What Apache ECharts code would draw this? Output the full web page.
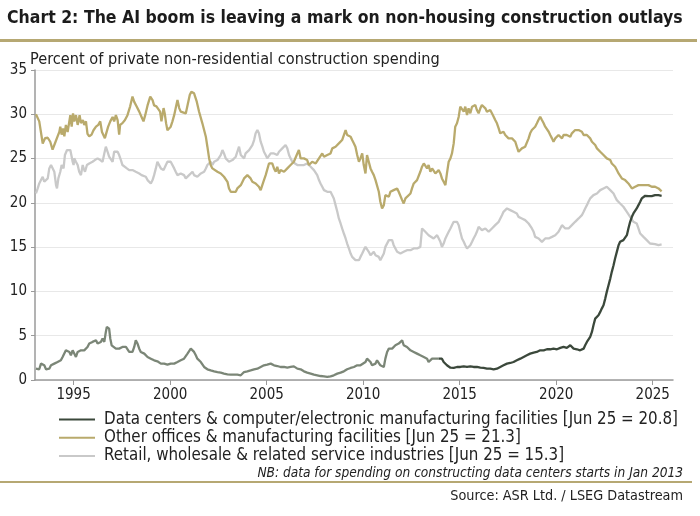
<!DOCTYPE html>
<html>
<head>
<meta charset="utf-8">
<script src="https://cdn.jsdelivr.net/npm/echarts@6/dist/echarts.min.js"></script>
<style>
html,body{margin:0;padding:0;background:#fff;}
#c{width:700px;height:516px;}
</style>
</head>
<body>
<div id="c"></div>
<script>
// ---------- DATA ----------
const xTickYears = [1995, 2000, 2005, 2010, 2015, 2020, 2025];
const yTicks = [0, 5, 10, 15, 20, 25, 30, 35];

const seriesNames = [
  'Data centers & computer/electronic manufacturing facilities [Jun 25 = 20.8]',
  'Other offices & manufacturing facilities [Jun 25 = 21.3]',
  'Retail, wholesale & related service industries [Jun 25 = 15.3]'
];

// Other offices & manufacturing facilities
const officeYears = [1993.05,1993.22,1993.40,1993.52,1993.66,1993.79,1993.91,1994.03,1994.17,1994.26,1994.31,1994.38,1994.45,1994.52,1994.60,1994.69,1994.83,1994.90,1994.97,1995.03,1995.12,1995.21,1995.31,1995.38,1995.48,1995.55,1995.64,1995.72,1995.81,1995.93,1996.03,1996.16,1996.28,1996.38,1996.47,1996.55,1996.62,1996.69,1996.79,1996.90,1997.02,1997.10,1997.19,1997.28,1997.36,1997.41,1997.53,1997.66,1997.79,1997.93,1998.05,1998.14,1998.26,1998.40,1998.52,1998.62,1998.71,1998.83,1998.97,1999.09,1999.17,1999.29,1999.38,1999.48,1999.55,1999.66,1999.72,1999.79,1999.86,1999.95,2000.03,2000.12,2000.21,2000.29,2000.38,2000.47,2000.55,2000.64,2000.81,2000.90,2001.02,2001.10,2001.24,2001.38,2001.50,2001.59,2001.67,2001.76,2001.85,2001.93,2002.02,2002.10,2002.19,2002.28,2002.45,2002.62,2002.79,2002.97,2003.05,2003.14,2003.23,2003.40,2003.48,2003.66,2003.74,2003.83,2003.91,2004.00,2004.17,2004.26,2004.35,2004.43,2004.52,2004.60,2004.69,2004.74,2004.83,2004.95,2005.12,2005.21,2005.29,2005.38,2005.47,2005.55,2005.64,2005.72,2005.90,2006.07,2006.24,2006.41,2006.59,2006.67,2006.76,2006.93,2007.10,2007.19,2007.28,2007.36,2007.54,2007.62,2007.71,2007.79,2007.88,2007.97,2008.14,2008.31,2008.40,2008.48,2008.57,2008.66,2008.74,2008.83,2008.91,2009.00,2009.09,2009.17,2009.26,2009.35,2009.43,2009.52,2009.60,2009.69,2009.78,2009.86,2009.95,2010.03,2010.12,2010.20,2010.29,2010.38,2010.46,2010.55,2010.64,2010.72,2010.81,2010.89,2010.98,2011.07,2011.15,2011.24,2011.33,2011.41,2011.50,2011.58,2011.67,2011.76,2011.84,2011.93,2012.02,2012.10,2012.19,2012.27,2012.45,2012.53,2012.62,2012.70,2012.79,2012.88,2012.96,2013.05,2013.14,2013.22,2013.31,2013.39,2013.48,2013.57,2013.65,2013.74,2013.83,2013.91,2014.00,2014.08,2014.17,2014.26,2014.34,2014.43,2014.52,2014.60,2014.69,2014.77,2014.86,2014.95,2015.03,2015.12,2015.21,2015.29,2015.38,2015.46,2015.55,2015.64,2015.72,2015.81,2015.89,2015.98,2016.07,2016.15,2016.24,2016.33,2016.41,2016.58,2016.67,2016.76,2016.84,2016.93,2017.02,2017.10,2017.19,2017.27,2017.36,2017.45,2017.53,2017.62,2017.71,2017.79,2017.88,2017.96,2018.05,2018.14,2018.22,2018.31,2018.39,2018.48,2018.57,2018.65,2018.74,2018.83,2018.91,2019.00,2019.08,2019.17,2019.26,2019.35,2019.43,2019.52,2019.61,2019.69,2019.78,2019.86,2019.95,2020.04,2020.12,2020.21,2020.30,2020.38,2020.47,2020.55,2020.64,2020.73,2020.81,2020.90,2020.98,2021.07,2021.16,2021.24,2021.33,2021.42,2021.50,2021.59,2021.67,2021.76,2021.85,2021.93,2022.02,2022.11,2022.19,2022.28,2022.36,2022.45,2022.54,2022.62,2022.71,2022.80,2022.88,2022.97,2023.05,2023.14,2023.23,2023.31,2023.40,2023.48,2023.57,2023.66,2023.74,2023.83,2023.92,2024.00,2024.09,2024.17,2024.26,2024.35,2024.43,2024.52,2024.61,2024.69,2024.78,2024.86,2024.95,2025.04,2025.12,2025.21,2025.30,2025.38,2025.46];
const officeValues = [30.0,29.2,26.7,27.3,27.35,26.9,26.0,26.7,27.5,28.0,28.6,27.7,28.4,27.5,28.8,28.0,29.9,28.6,30.1,29.2,29.9,28.8,29.9,29.0,29.35,28.8,29.2,27.8,27.5,27.7,28.2,28.6,28.8,29.2,28.0,28.2,27.3,27.85,28.6,29.2,29.7,29.2,29.9,29.35,27.7,28.8,29.0,29.35,29.9,30.9,32.0,31.4,30.9,30.3,29.7,29.2,29.9,31.0,32.0,31.6,31.0,30.9,30.7,30.3,29.2,30.7,30.1,29.0,28.2,28.4,28.6,29.2,29.9,30.7,31.6,30.7,30.3,30.1,30.1,31.0,32.2,32.55,32.37,31.42,30.29,30.11,28.98,28.22,27.47,26.34,25.02,24.27,23.89,23.70,23.51,23.32,22.95,22.38,21.63,21.25,21.06,21.25,21.63,22.00,22.19,22.76,22.57,23.13,22.76,22.38,22.57,22.19,22.19,21.82,21.44,21.25,22.38,23.13,24.45,24.64,24.45,23.89,23.51,24.08,23.32,23.70,23.51,23.89,24.27,24.64,25.58,25.96,25.02,25.02,24.83,24.27,24.27,24.64,24.45,24.27,25.02,25.21,25.58,25.21,25.40,25.58,26.15,25.96,26.34,26.53,26.71,26.90,27.09,27.66,28.22,27.66,27.47,27.47,27.09,26.71,26.34,25.40,24.64,25.02,25.58,24.27,23.32,25.40,24.64,23.89,23.51,23.13,22.57,22.38,21.25,20.12,19.37,19.74,20.87,21.06,20.69,21.25,21.06,21.44,21.25,21.63,21.25,21.06,20.31,19.93,20.50,20.31,21.06,21.63,22.19,22.38,22.57,22.76,23.51,24.08,24.45,24.27,23.89,24.27,23.51,23.89,23.70,23.32,23.13,23.70,23.32,22.76,22.38,22.00,23.32,24.64,25.02,25.58,26.71,28.60,28.98,29.73,30.86,30.67,30.29,30.86,29.92,30.67,30.11,30.86,30.67,31.05,30.48,30.11,30.67,31.05,30.86,30.67,30.29,30.48,30.11,29.73,29.35,28.98,28.41,27.85,27.66,28.03,27.66,27.47,27.28,27.09,27.28,27.47,26.90,26.34,25.77,25.96,26.15,25.96,26.34,26.53,27.28,27.85,28.22,28.41,28.60,28.98,29.35,29.73,29.35,28.98,28.60,28.41,28.03,27.66,27.28,26.90,27.28,27.47,27.66,27.85,27.28,27.66,27.85,27.66,27.66,27.47,27.85,28.03,28.22,28.41,28.22,28.03,28.03,27.66,27.85,27.66,27.47,27.28,26.90,26.71,26.53,26.15,25.96,25.77,25.58,25.40,25.21,25.02,24.83,24.83,24.45,24.27,24.08,23.70,23.32,23.13,22.76,22.57,22.57,22.38,22.19,22.00,21.63,21.63,21.82,21.82,22.00,22.00,22.00,22.19,22.00,22.19,22.00,22.00,21.82,21.82,21.82,21.63,21.63,21.44,21.3];

// Retail, wholesale & related service industries
const retailYears = [1993.05,1993.14,1993.22,1993.31,1993.40,1993.48,1993.57,1993.66,1993.74,1993.83,1993.91,1994.00,1994.09,1994.14,1994.21,1994.31,1994.38,1994.48,1994.55,1994.66,1994.72,1994.83,1994.90,1994.95,1995.00,1995.03,1995.12,1995.21,1995.29,1995.38,1995.47,1995.52,1995.59,1995.69,1995.81,1995.90,1995.98,1996.10,1996.24,1996.38,1996.50,1996.59,1996.67,1996.76,1996.84,1996.93,1997.02,1997.10,1997.19,1997.28,1997.36,1997.45,1997.53,1997.62,1997.76,1997.88,1998.05,1998.22,1998.40,1998.52,1998.62,1998.74,1998.83,1999.00,1999.09,1999.17,1999.26,1999.34,1999.43,1999.52,1999.66,1999.78,1999.86,1999.95,2000.03,2000.12,2000.21,2000.29,2000.38,2000.47,2000.55,2000.72,2000.81,2000.90,2000.98,2001.07,2001.16,2001.24,2001.33,2001.41,2001.50,2001.59,2001.67,2001.76,2001.85,2001.93,2002.02,2002.10,2002.19,2002.28,2002.36,2002.45,2002.54,2002.62,2002.71,2002.79,2002.88,2002.97,2003.05,2003.14,2003.23,2003.31,2003.40,2003.48,2003.57,2003.66,2003.74,2003.83,2003.91,2004.00,2004.09,2004.17,2004.26,2004.35,2004.43,2004.52,2004.60,2004.69,2004.78,2004.86,2004.95,2005.03,2005.12,2005.21,2005.29,2005.38,2005.47,2005.55,2005.64,2005.72,2005.81,2005.90,2005.98,2006.07,2006.16,2006.24,2006.33,2006.41,2006.59,2006.76,2006.93,2007.10,2007.19,2007.28,2007.36,2007.45,2007.54,2007.62,2007.71,2007.79,2007.88,2007.97,2008.05,2008.14,2008.22,2008.31,2008.40,2008.48,2008.57,2008.66,2008.74,2008.83,2008.91,2009.00,2009.09,2009.17,2009.26,2009.35,2009.43,2009.52,2009.60,2009.69,2009.78,2009.86,2009.95,2010.03,2010.12,2010.20,2010.29,2010.38,2010.46,2010.55,2010.64,2010.72,2010.81,2010.89,2010.98,2011.07,2011.15,2011.24,2011.33,2011.41,2011.50,2011.58,2011.67,2011.76,2011.84,2011.93,2012.10,2012.27,2012.45,2012.62,2012.79,2012.96,2013.05,2013.14,2013.22,2013.31,2013.39,2013.48,2013.65,2013.74,2013.83,2013.91,2014.00,2014.08,2014.17,2014.26,2014.34,2014.43,2014.52,2014.60,2014.69,2014.77,2014.86,2014.95,2015.03,2015.12,2015.21,2015.29,2015.38,2015.46,2015.55,2015.64,2015.72,2015.81,2015.89,2015.98,2016.07,2016.15,2016.24,2016.33,2016.41,2016.50,2016.58,2016.67,2016.76,2016.84,2016.93,2017.02,2017.10,2017.19,2017.27,2017.36,2017.45,2017.53,2017.62,2017.71,2017.79,2017.88,2017.96,2018.05,2018.14,2018.22,2018.31,2018.39,2018.48,2018.57,2018.65,2018.74,2018.83,2018.91,2018.99,2019.09,2019.17,2019.26,2019.35,2019.43,2019.52,2019.61,2019.69,2019.78,2019.86,2019.95,2020.04,2020.12,2020.21,2020.30,2020.38,2020.47,2020.55,2020.64,2020.73,2020.81,2020.90,2020.98,2021.07,2021.16,2021.24,2021.33,2021.42,2021.50,2021.59,2021.67,2021.76,2021.85,2021.93,2022.02,2022.11,2022.19,2022.28,2022.36,2022.45,2022.54,2022.62,2022.71,2022.80,2022.88,2022.97,2023.05,2023.14,2023.23,2023.31,2023.40,2023.48,2023.57,2023.66,2023.74,2023.83,2023.92,2024.00,2024.09,2024.17,2024.26,2024.35,2024.43,2024.52,2024.61,2024.69,2024.78,2024.86,2024.95,2025.12,2025.30,2025.46];
const retailValues = [21.06,21.63,22.19,22.57,22.95,22.38,22.19,22.76,23.89,24.27,24.45,23.51,22.00,21.63,22.76,23.51,24.27,23.89,25.40,25.96,26.15,25.96,25.21,24.64,24.27,25.02,24.64,24.27,23.51,23.13,24.27,23.89,23.51,24.27,24.45,24.45,24.64,24.83,25.02,24.83,24.64,25.58,26.34,25.77,25.21,25.02,24.64,25.77,25.96,25.77,25.40,24.83,24.27,24.27,23.89,23.70,23.70,23.51,23.32,23.13,23.32,22.95,22.57,22.19,22.57,23.13,23.89,24.64,24.45,23.89,23.70,24.27,24.64,24.83,24.64,24.45,23.89,23.51,23.13,23.13,23.32,23.13,22.76,22.57,23.13,23.32,23.51,23.13,23.32,22.95,23.13,23.32,23.32,23.51,23.89,24.27,24.45,24.64,24.27,24.64,24.45,24.83,25.02,25.40,25.96,25.58,25.02,24.83,24.64,24.45,24.83,25.02,25.21,25.77,26.34,25.40,25.21,25.02,25.58,25.40,25.96,26.15,26.53,27.09,27.85,28.22,27.85,26.90,26.34,25.77,25.40,25.02,25.21,25.58,25.77,25.58,25.77,25.40,25.77,25.96,26.15,26.34,26.53,26.15,25.40,25.02,24.64,24.45,24.27,24.27,24.27,24.45,24.27,24.08,23.89,23.70,23.51,23.13,22.57,22.19,21.82,21.44,21.63,21.25,21.06,21.25,21.06,20.50,19.74,18.99,18.24,17.67,17.11,16.54,15.98,15.41,14.85,14.28,13.90,13.72,13.53,13.34,13.53,13.90,14.28,14.66,15.03,14.85,14.47,14.09,14.28,14.47,14.09,13.90,13.90,13.53,13.34,14.28,15.03,15.22,15.79,15.98,15.79,15.22,14.85,14.47,14.28,14.28,14.47,14.66,14.66,14.85,14.85,15.03,17.11,16.92,16.73,16.54,16.35,16.16,15.98,16.16,16.35,16.16,15.60,15.03,15.41,15.98,16.35,16.73,17.11,17.48,17.86,18.05,17.86,17.48,16.73,15.98,15.60,15.22,14.85,14.66,15.22,15.60,15.98,16.35,16.73,17.29,17.11,16.92,16.73,17.11,17.29,16.73,16.92,17.11,17.29,17.48,17.67,17.86,18.05,18.61,18.99,19.18,19.37,19.37,19.18,18.99,18.99,18.80,18.80,18.42,18.42,18.24,18.42,18.05,17.86,17.67,17.48,17.11,16.73,16.16,16.16,15.98,15.79,15.60,15.79,15.98,15.79,15.98,15.98,16.16,15.98,16.35,16.54,16.73,17.11,17.48,17.29,17.11,16.92,17.11,17.29,17.48,17.67,17.86,18.05,18.24,18.42,18.61,18.99,19.37,19.74,20.12,20.50,20.69,20.87,21.06,21.06,21.25,21.44,21.44,21.63,21.63,21.82,21.82,21.44,21.25,21.06,20.69,20.31,20.12,19.93,19.74,19.56,19.37,18.99,18.80,18.42,18.24,17.86,17.67,17.67,17.11,16.54,16.35,16.16,15.98,15.79,15.60,15.41,15.34,15.34,15.22,15.3];

// Data centers & computer/electronic manufacturing: before data-center coverage (lighter line)
const techEarlyYears = [1993.05,1993.14,1993.22,1993.31,1993.40,1993.48,1993.57,1993.66,1993.74,1993.83,1993.91,1994.00,1994.09,1994.17,1994.26,1994.34,1994.43,1994.52,1994.60,1994.69,1994.78,1994.86,1994.95,1995.03,1995.12,1995.21,1995.29,1995.38,1995.47,1995.55,1995.64,1995.72,1995.81,1995.90,1995.98,1996.07,1996.16,1996.24,1996.33,1996.41,1996.50,1996.59,1996.67,1996.72,1996.79,1996.84,1996.90,1996.97,1997.07,1997.19,1997.28,1997.36,1997.45,1997.53,1997.62,1997.71,1997.79,1997.88,1997.97,1998.05,1998.14,1998.22,1998.31,1998.40,1998.48,1998.57,1998.66,1998.74,1998.83,1998.91,1999.00,1999.17,1999.34,1999.52,1999.69,1999.86,2000.03,2000.21,2000.38,2000.55,2000.72,2000.81,2000.90,2000.98,2001.07,2001.16,2001.24,2001.33,2001.41,2001.50,2001.59,2001.67,2001.76,2001.85,2001.93,2002.10,2002.28,2002.45,2002.62,2002.79,2002.97,2003.14,2003.31,2003.48,2003.66,2003.74,2003.83,2004.00,2004.17,2004.35,2004.52,2004.69,2004.86,2005.03,2005.21,2005.38,2005.55,2005.72,2005.90,2006.07,2006.24,2006.33,2006.41,2006.59,2006.76,2006.93,2007.10,2007.28,2007.45,2007.62,2007.79,2007.97,2008.14,2008.31,2008.48,2008.66,2008.83,2009.00,2009.17,2009.35,2009.52,2009.69,2009.78,2009.86,2009.95,2010.12,2010.20,2010.29,2010.38,2010.46,2010.55,2010.64,2010.72,2010.81,2010.89,2010.98,2011.07,2011.15,2011.24,2011.33,2011.41,2011.50,2011.58,2011.67,2011.76,2011.84,2011.93,2012.02,2012.10,2012.19,2012.27,2012.36,2012.45,2012.62,2012.79,2012.96,2013.14,2013.31,2013.39,2013.48,2013.57,2013.65,2013.74,2013.83,2013.91];
const techEarlyValues = [1.28,1.09,1.21,1.85,2.03,1.66,1.21,1.09,1.28,1.66,1.47,1.85,1.73,2.03,1.85,2.22,2.60,2.79,3.35,3.54,3.17,2.79,3.35,3.17,2.60,3.17,3.35,3.35,3.54,3.35,3.54,3.73,4.11,4.30,4.30,4.30,4.48,4.11,3.92,4.30,4.67,4.30,5.43,5.99,6.18,5.80,4.67,3.92,3.73,3.54,3.35,3.54,3.73,3.73,3.54,3.73,3.54,3.17,2.98,3.17,3.73,4.48,4.11,3.54,3.17,3.17,2.98,2.79,2.60,2.41,2.41,2.22,2.11,1.85,1.85,1.73,1.85,1.85,2.03,2.22,2.41,2.60,2.98,3.17,3.54,3.35,3.17,2.79,2.41,2.22,2.03,1.85,1.47,1.28,1.21,1.09,0.98,0.90,0.83,0.72,0.64,0.60,0.60,0.60,0.53,0.60,0.90,0.98,1.09,1.21,1.28,1.47,1.66,1.73,1.85,1.66,1.58,1.47,1.47,1.39,1.47,1.66,1.54,1.28,1.21,0.98,0.83,0.72,0.60,0.53,0.45,0.41,0.34,0.41,0.53,0.72,0.83,0.98,1.21,1.36,1.47,1.66,1.77,1.66,1.85,2.03,2.41,2.22,2.03,1.66,1.66,1.85,2.22,2.41,1.66,1.47,1.47,2.41,3.17,3.54,3.35,3.54,3.73,3.92,3.92,4.11,4.30,4.48,3.92,3.73,3.73,3.54,3.35,3.17,2.98,2.79,2.60,2.41,2.03,2.22,2.41,2.22,2.41,2.22,2.41];

// Data centers & computer/electronic manufacturing: with data-center coverage (dark line)
const techYears = [2013.91,2014.00,2014.08,2014.17,2014.26,2014.34,2014.43,2014.52,2014.60,2014.69,2014.86,2015.03,2015.21,2015.38,2015.55,2015.72,2015.89,2016.07,2016.24,2016.41,2016.58,2016.76,2016.93,2017.10,2017.27,2017.45,2017.62,2017.79,2017.96,2018.14,2018.31,2018.48,2018.65,2018.83,2018.99,2019.17,2019.35,2019.52,2019.69,2019.86,2020.04,2020.21,2020.38,2020.55,2020.73,2020.81,2020.90,2020.98,2021.07,2021.16,2021.24,2021.33,2021.42,2021.50,2021.59,2021.67,2021.76,2021.85,2021.93,2022.02,2022.11,2022.19,2022.28,2022.36,2022.45,2022.54,2022.62,2022.71,2022.80,2022.88,2022.97,2023.05,2023.14,2023.23,2023.31,2023.40,2023.48,2023.57,2023.66,2023.74,2023.83,2023.92,2024.00,2024.09,2024.17,2024.26,2024.35,2024.43,2024.52,2024.61,2024.69,2024.78,2024.86,2024.95,2025.04,2025.12,2025.21,2025.30,2025.38,2025.46];
const techValues = [2.41,2.22,2.41,2.03,1.85,1.66,1.47,1.39,1.47,1.36,1.47,1.47,1.54,1.47,1.54,1.47,1.47,1.39,1.36,1.28,1.28,1.21,1.28,1.47,1.66,1.85,1.92,2.03,2.22,2.41,2.60,2.79,2.98,3.09,3.17,3.35,3.35,3.47,3.47,3.54,3.47,3.62,3.73,3.62,3.92,3.73,3.54,3.62,3.47,3.54,3.35,3.47,3.54,3.92,4.30,4.48,4.86,5.43,6.18,6.93,7.12,7.31,7.69,8.06,8.44,9.19,9.95,10.70,11.45,12.21,12.96,13.72,14.47,15.22,15.60,15.67,15.79,15.98,16.35,17.11,17.86,18.42,18.80,18.99,19.37,19.74,20.12,20.50,20.69,20.80,20.69,20.76,20.87,20.76,20.80,20.87,20.80,20.87,20.95,20.8];

// ---------- CHART ----------
const FONT = 'DejaVu Sans Condensed';
const GOLD = '#b9aa6c';
const GRAY = '#c9c9c9';
const DARK = '#3b483b';
const DARK_EARLY = '#7b8677';

const zip = (xs, ys) => xs.map((x, i) => [x, ys[i]]);

const chart = echarts.init(document.getElementById('c'), null, {renderer: 'canvas'});

chart.setOption({
  animation: false,
  backgroundColor: '#ffffff',
  textStyle: {fontFamily: FONT},
  title: [
    {text: 'Chart 2: The AI boom is leaving a mark on non-housing construction outlays',
     left: 7, top: 9, padding: 0,
     textStyle: {fontFamily: FONT, fontWeight: 'bold', fontSize: 17.5, color: '#1c1c1c'}},
    {text: 'Percent of private non-residential construction spending',
     left: 30, top: 52, padding: 0,
     textStyle: {fontFamily: FONT, fontWeight: 'normal', fontSize: 16.2, color: '#222'}},
    {text: 'NB: data for spending on constructing data centers starts in Jan 2013',
     right: 17, top: 466, padding: 0,
     textStyle: {fontFamily: FONT, fontStyle: 'italic', fontWeight: 'normal', fontSize: 13.6, color: '#222'}},
    {text: 'Source: ASR Ltd. / LSEG Datastream',
     right: 17, top: 489, padding: 0,
     textStyle: {fontFamily: FONT, fontWeight: 'normal', fontSize: 14.3, color: '#222'}}
  ],
  graphic: [
    {type: 'rect', shape: {x: 0, y: 39, width: 697, height: 3}, style: {fill: '#b6a873'}, silent: true},
    {type: 'rect', shape: {x: 0, y: 481, width: 692, height: 2}, style: {fill: '#b6a873'}, silent: true}
  ],
  legend: {
    orient: 'vertical',
    left: 59, top: 411, padding: 0,
    icon: 'rect',
    itemWidth: 36, itemHeight: 2,
    itemGap: 1.3,
    data: seriesNames,
    textStyle: {fontFamily: FONT, fontSize: 16.8, color: '#222', padding: [0, 0, 0, 4], lineHeight: 16}
  },
  grid: {left: 35, right: 27, top: 70, bottom: 136, containLabel: false},
  xAxis: {
    type: 'value',
    min: 1993,
    max: 2026.05,
    splitLine: {show: false},
    axisLine: {show: true, lineStyle: {color: '#9a9a9a', width: 1.5}},
    axisTick: {show: true, customValues: xTickYears, length: 5, lineStyle: {color: '#9a9a9a'}},
    axisLabel: {customValues: xTickYears, formatter: v => String(v), fontFamily: FONT, fontSize: 15, color: '#222', margin: 8}
  },
  yAxis: {
    type: 'value',
    min: 0, max: 35, interval: 5,
    axisLine: {show: true, lineStyle: {color: '#9a9a9a', width: 1.5}},
    axisTick: {show: true, length: 4, lineStyle: {color: '#9a9a9a'}},
    splitLine: {show: true, lineStyle: {color: '#e8e8e8', width: 1}},
    axisLabel: {fontFamily: FONT, fontSize: 15, color: '#222', margin: 8}
  },
  series: [
    {name: seriesNames[2], type: 'line', data: zip(retailYears, retailValues), symbol: 'none',
     lineStyle: {color: GRAY, width: 2.3}, itemStyle: {color: GRAY}, z: 2},
    {name: seriesNames[1], type: 'line', data: zip(officeYears, officeValues), symbol: 'none',
     lineStyle: {color: GOLD, width: 2.3}, itemStyle: {color: GOLD}, z: 3},
    {name: 'techEarly', type: 'line', data: zip(techEarlyYears, techEarlyValues), symbol: 'none',
     lineStyle: {color: DARK_EARLY, width: 2.3}, itemStyle: {color: DARK_EARLY}, z: 4},
    {name: seriesNames[0], type: 'line', data: zip(techYears, techValues), symbol: 'none',
     lineStyle: {color: DARK, width: 2.3}, itemStyle: {color: DARK}, z: 5}
  ]
});
</script>
</body>
</html>
